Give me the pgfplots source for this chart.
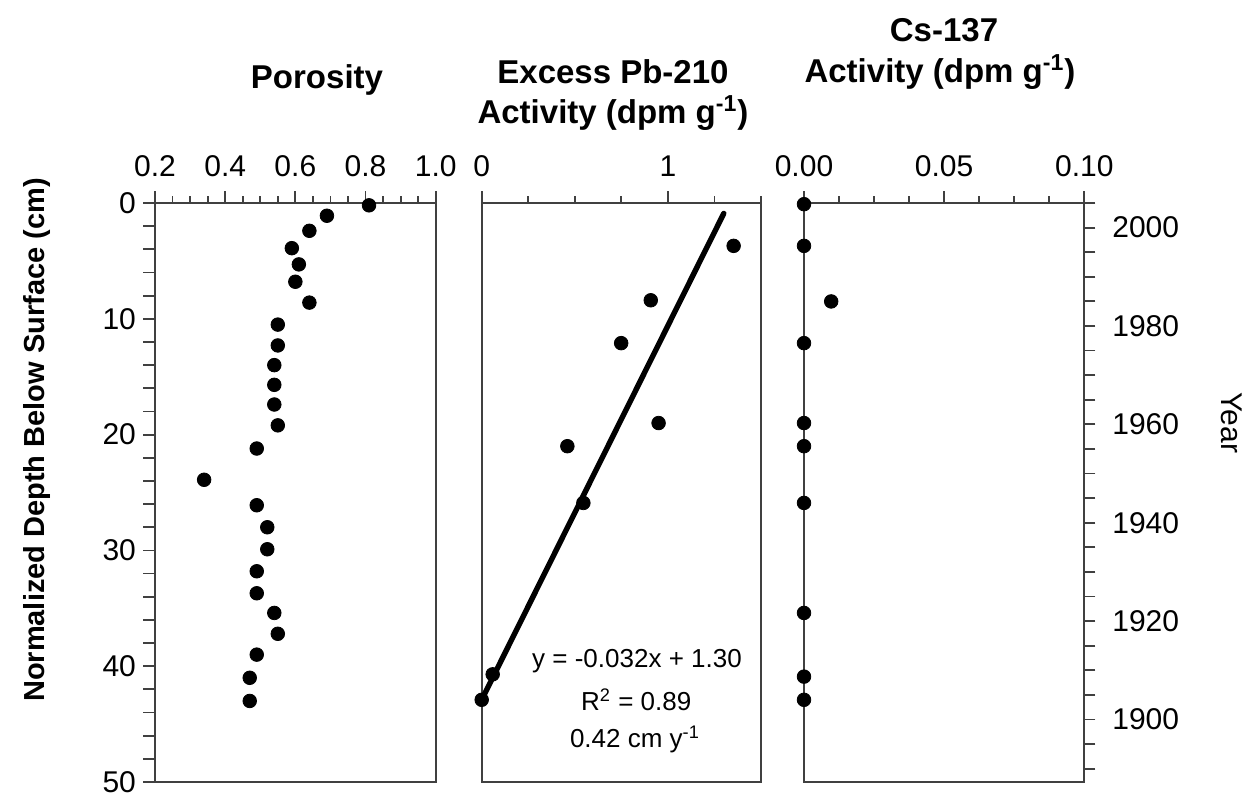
\documentclass[border=0pt]{standalone}
\usepackage{fontspec}
\setmainfont{Liberation Sans}
\usepackage{pgfplots}
\pgfplotsset{compat=1.18}
\pgfplotsset{
  panel/.style={
    scale only axis, height=289.5pt, anchor=north west,
    y dir=reverse, ymin=0, ymax=50,
    axis line style={draw=black!75, line width=0.9pt},
    every tick/.style={draw=black!75, line width=0.9pt},
    tick align=outside,
    major tick length=6pt, minor tick length=3.5pt,
    xtick pos=top, xticklabel pos=top,
    ticklabel style={font=\fontsize{15}{17}\selectfont},
    xticklabel style={yshift=3.5pt},
    clip=false,
  },
  dots/.style={only marks, mark=*, mark size=3.4pt, mark options={draw=black, fill=black}},
}
\begin{document}
\begin{tikzpicture}
\path[use as bounding box] (0,0) rectangle (626.5pt,-399.5pt);
% Porosity
\begin{axis}[panel, at={(77.5pt,-101.5pt)}, width=140.35pt,
  xmin=0.2, xmax=1.0, xtick={0.2,0.4,0.6,0.8,1.0}, xticklabels={0.2,0.4,0.6,0.8,1.0},
  minor x tick num=3,
  ytick={0,2,...,50},
  yticklabels={0,,,,,10,,,,,20,,,,,30,,,,,40,,,,,50},
  ytick pos=left]
\addplot[dots] coordinates {
(0.81,0.2) (0.69,1.1) (0.64,2.4) (0.59,3.9) (0.61,5.3) (0.60,6.8) (0.64,8.6)
(0.55,10.5) (0.55,12.3) (0.54,14.0) (0.54,15.7) (0.54,17.4) (0.55,19.2)
(0.49,21.2) (0.34,23.9) (0.49,26.1) (0.52,28.0) (0.52,29.9) (0.49,31.8)
(0.49,33.7) (0.54,35.4) (0.55,37.2) (0.49,39.0) (0.47,41.0) (0.47,43.0)};
\end{axis}
% Excess Pb-210
\begin{axis}[panel, at={(240.85pt,-101.5pt)}, width=139.65pt,
  xmin=0, xmax=1.5, xtick={0,1}, xticklabels={0,1},
  minor xtick={0.25,0.5,0.75,1.25,1.5},
  ytick=\empty]
\addplot[black, line width=2.7pt, line cap=round] coordinates {(1.30,0.9) (0.0,42.9)};
\addplot[dots] coordinates {
(1.353,3.7) (0.908,8.4) (0.749,12.1) (0.950,19.0) (0.460,21.0) (0.546,25.9)
(0.059,40.7) (0.0,42.9)};
\node[font=\fontsize{13}{15}\selectfont] at (axis cs:0.834,39.6) {y = -0.032x + 1.30};
\node[font=\fontsize{13}{15}\selectfont] at (axis cs:0.83,42.9) {R\textsuperscript{2} = 0.89};
\node[font=\fontsize{13}{15}\selectfont] at (axis cs:0.823,46.3) {0.42 cm y\textsuperscript{-1}};
\end{axis}
% Cs-137
\begin{axis}[panel, at={(402pt,-101.5pt)}, width=140.15pt,
  xmin=0, xmax=0.1, xtick={0,0.05,0.1}, xticklabels={0.00,0.05,0.10},
  minor xtick={0.0125,0.025,0.0375,0.0625,0.075,0.0875},
  ytick=\empty]
\addplot[dots] coordinates {
(0,0.1) (0,3.7) (0.0097,8.5) (0,12.1) (0,19.0) (0,21.0) (0,25.9) (0,35.4) (0,40.9) (0,42.9)};
\end{axis}
% Year axis
\begin{axis}[scale only axis, anchor=north west, at={(402pt,-101.5pt)}, width=140.15pt, height=289.5pt,
  axis x line=none, axis y line*=right,
  ymin=1887.3, ymax=2005,
  axis line style={draw=black!75, line width=0.9pt},
  every tick/.style={draw=black!75, line width=0.9pt},
  tick align=outside, major tick length=5.5pt,
  ytick={1890,1895,...,2005},
  yticklabels={,,1900,,,,1920,,,,1940,,,,1960,,,,1980,,,,2000,},
  ticklabel style={font=\fontsize{15}{17}\selectfont},
  yticklabel style={xshift=5pt}]
\addplot[draw=none] coordinates {(0,1950)};
\end{axis}
% titles and labels
\node[font=\bfseries\fontsize{16.5}{19}\selectfont] at (158.5pt,-40pt) {Porosity};
\node[font=\bfseries\fontsize{16.5}{19}\selectfont] at (306.5pt,-36pt) {Excess Pb-210};
\node[font=\bfseries\fontsize{16.5}{19}\selectfont] at (306.5pt,-56.5pt) {Activity (dpm g\textsuperscript{-1})};
\node[font=\bfseries\fontsize{16.5}{19}\selectfont] at (472pt,-15pt) {Cs-137};
\node[font=\bfseries\fontsize{16.5}{19}\selectfont] at (470pt,-36pt) {Activity (dpm g\textsuperscript{-1})};
\node[font=\bfseries\fontsize{14.5}{17}\selectfont, rotate=90] at (18.5pt,-220pt) {Normalized Depth Below Surface (cm)};
\node[font=\fontsize{15}{17}\selectfont, rotate=-90] at (616pt,-211.5pt) {Year};
\end{tikzpicture}
\end{document}
